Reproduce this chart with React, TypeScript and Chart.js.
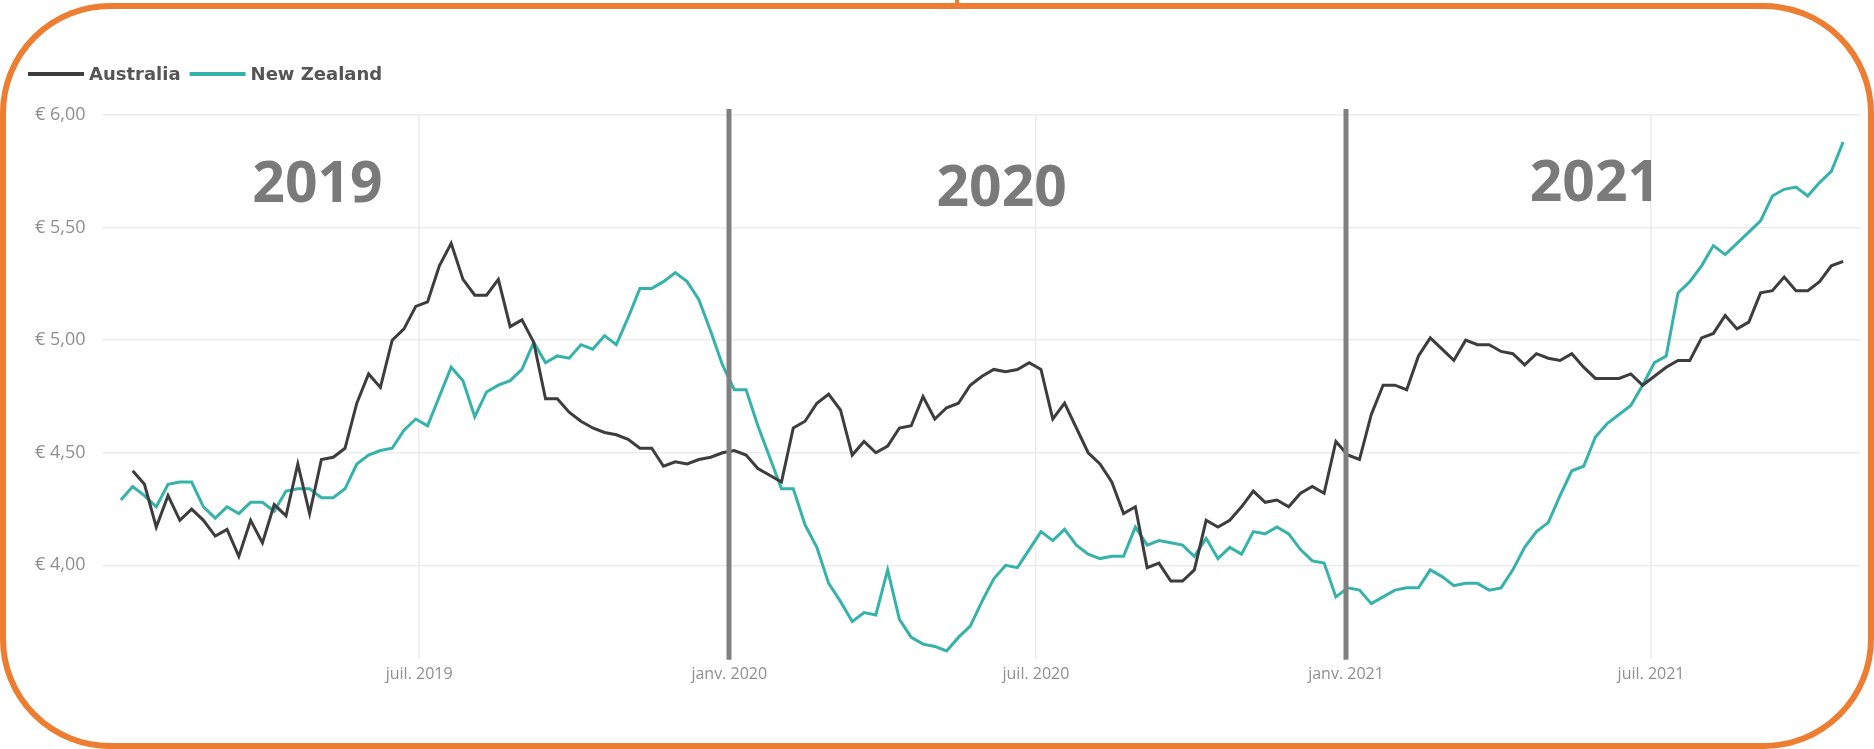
import React, { useEffect, useRef } from 'react';
import { Chart, registerables } from 'chart.js';

Chart.register(...registerables);

// ---------- data ----------
const EPOCH = '2019-01-01';
const FIRST_WEEK = '2019-01-05';

const seriesNames = ['Australia', 'New Zealand'];

// weekly values, index 0 = FIRST_WEEK
const australia: (number | null)[] = [
  null, 4.42, 4.36, 4.17, 4.31, 4.2, 4.25, 4.2, 4.13, 4.16,
  4.04, 4.2, 4.1, 4.27, 4.22, 4.45, 4.23, 4.47, 4.48, 4.52,
  4.72, 4.85, 4.79, 5.0, 5.05, 5.15, 5.17, 5.33, 5.43, 5.27,
  5.2, 5.2, 5.27, 5.06, 5.09, 4.99, 4.74, 4.74, 4.68, 4.64,
  4.61, 4.59, 4.58, 4.56, 4.52, 4.52, 4.44, 4.46, 4.45, 4.47,
  4.48, 4.5, 4.51, 4.49, 4.43, 4.4, 4.37, 4.61, 4.64, 4.72,
  4.76, 4.69, 4.49, 4.55, 4.5, 4.53, 4.61, 4.62, 4.75, 4.65,
  4.7, 4.72, 4.8, 4.84, 4.87, 4.86, 4.87, 4.9, 4.87, 4.65,
  4.72, 4.61, 4.5, 4.45, 4.37, 4.23, 4.26, 3.99, 4.01, 3.93,
  3.93, 3.98, 4.2, 4.17, 4.2, 4.26, 4.33, 4.28, 4.29, 4.26,
  4.32, 4.35, 4.32, 4.55, 4.49, 4.47, 4.67, 4.8, 4.8, 4.78,
  4.93, 5.01, 4.96, 4.91, 5.0, 4.98, 4.98, 4.95, 4.94, 4.89,
  4.94, 4.92, 4.91, 4.94, 4.88, 4.83, 4.83, 4.83, 4.85, 4.8,
  4.84, 4.88, 4.91, 4.91, 5.01, 5.03, 5.11, 5.05, 5.08, 5.21,
  5.22, 5.28, 5.22, 5.22, 5.26, 5.33, 5.35,
];

const newZealand: number[] = [
  4.29, 4.35, 4.31, 4.26, 4.36, 4.37, 4.37, 4.26, 4.21, 4.26,
  4.23, 4.28, 4.28, 4.24, 4.33, 4.34, 4.34, 4.3, 4.3, 4.34,
  4.45, 4.49, 4.51, 4.52, 4.6, 4.65, 4.62, 4.75, 4.88, 4.82,
  4.66, 4.77, 4.8, 4.82, 4.87, 4.99, 4.9, 4.93, 4.92, 4.98,
  4.96, 5.02, 4.98, 5.1, 5.23, 5.23, 5.26, 5.3, 5.26, 5.18,
  5.04, 4.89, 4.78, 4.78, 4.62, 4.48, 4.34, 4.34, 4.18, 4.08,
  3.92, 3.84, 3.75, 3.79, 3.78, 3.98, 3.76, 3.68, 3.65, 3.64,
  3.62, 3.68, 3.73, 3.84, 3.94, 4.0, 3.99, 4.07, 4.15, 4.11,
  4.16, 4.09, 4.05, 4.03, 4.04, 4.04, 4.17, 4.09, 4.11, 4.1,
  4.09, 4.04, 4.12, 4.03, 4.08, 4.05, 4.15, 4.14, 4.17, 4.14,
  4.07, 4.02, 4.01, 3.86, 3.9, 3.89, 3.83, 3.86, 3.89, 3.9,
  3.9, 3.98, 3.95, 3.91, 3.92, 3.92, 3.89, 3.9, 3.98, 4.08,
  4.15, 4.19, 4.31, 4.42, 4.44, 4.57, 4.63, 4.67, 4.71, 4.8,
  4.9, 4.93, 5.21, 5.26, 5.33, 5.42, 5.38, 5.43, 5.48, 5.53,
  5.64, 5.67, 5.68, 5.64, 5.7, 5.75, 5.88,
];

const xTickDates = ['2019-07-01', '2020-01-01', '2020-07-01', '2021-01-01', '2021-07-01'];
const xTickLabels = ['juil. 2019', 'janv. 2020', 'juil. 2020', 'janv. 2021', 'juil. 2021'];
const yTicks = [4.0, 4.5, 5.0, 5.5, 6.0];

const separatorDates = ['2020-01-01', '2021-01-01'];
const yearLabels = ['2019', '2020', '2021'];
const yearLabelDates = ['2019-03-24', '2020-05-03', '2021-04-20'];
const yearLabelValues = [5.615, 5.597, 5.62];

// ---------- helpers ----------
const DAY = 86400000;
const dayOf = (d: string) => (Date.parse(d) - Date.parse(EPOCH)) / DAY;
const firstDay = dayOf(FIRST_WEEK);
const weekDay = (i: number) => firstDay + 7 * i;

const AU_COLOR = '#3d3d3d';
const NZ_COLOR = '#35b3aa';

const xTickDays = xTickDates.map(dayOf);

const overlayPlugin = {
  id: 'overlay',
  afterDatasetsDraw(chart: any) {
    const { ctx, chartArea, scales } = chart;
    const xs = scales.x;
    const ys = scales.y;
    ctx.save();
    // year separators
    ctx.strokeStyle = '#808080';
    ctx.lineWidth = 5;
    separatorDates.forEach((d) => {
      const x = Math.round(xs.getPixelForValue(dayOf(d)));
      ctx.beginPath();
      ctx.moveTo(x, chartArea.top - 6);
      ctx.lineTo(x, chartArea.bottom + 1);
      ctx.stroke();
    });
    // year labels
    ctx.fillStyle = '#7a7a7a';
    ctx.font = 'bold 57px "Open Sans"';
    ctx.textAlign = 'left';
    ctx.textBaseline = 'alphabetic';
    yearLabels.forEach((t, i) => {
      ctx.fillText(t, xs.getPixelForValue(dayOf(yearLabelDates[i])), ys.getPixelForValue(yearLabelValues[i]));
    });
    ctx.restore();
  },
  afterDraw(chart: any) {
    // legend
    const { ctx } = chart;
    ctx.save();
    ctx.font = 'bold 18px "DejaVu Sans"';
    ctx.textBaseline = 'middle';
    ctx.textAlign = 'left';
    let x = 28;
    const y = 74;
    chart.data.datasets.forEach((ds: any) => {
      ctx.strokeStyle = ds.borderColor;
      ctx.lineWidth = 4;
      ctx.beginPath();
      ctx.moveTo(x, y);
      ctx.lineTo(x + 56, y);
      ctx.stroke();
      x += 61;
      ctx.fillStyle = '#555555';
      ctx.fillText(ds.label, x, y + 1);
      x += ctx.measureText(ds.label).width + 9;
    });
    ctx.restore();
  },
};

export default function App() {
  const ref = useRef<HTMLCanvasElement | null>(null);

  useEffect(() => {
    if (!ref.current) return;
    Chart.defaults.font.family = '"Open Sans", sans-serif';
    const chart = new Chart(ref.current, {
      type: 'line',
      data: {
        datasets: [
          {
            label: seriesNames[0],
            data: australia.map((v, i) => ({ x: weekDay(i), y: v })) as any,
            borderColor: AU_COLOR,
            backgroundColor: AU_COLOR,
            borderWidth: 3,
            pointRadius: 0,
            tension: 0,
          },
          {
            label: seriesNames[1],
            data: newZealand.map((v, i) => ({ x: weekDay(i), y: v })) as any,
            borderColor: NZ_COLOR,
            backgroundColor: NZ_COLOR,
            borderWidth: 3,
            pointRadius: 0,
            tension: 0,
          },
        ],
      },
      options: {
        animation: false,
        responsive: false,
        devicePixelRatio: 1,
        layout: { padding: { left: 18, right: 14, top: 115, bottom: 59 } },
        plugins: {
          legend: { display: false },
          tooltip: { enabled: false },
        },
        scales: {
          x: {
            type: 'linear',
            min: -6.9,
            max: 1036,
            afterBuildTicks: (s: any) => {
              s.ticks = xTickDays.map((v) => ({ value: v }));
            },
            ticks: {
              autoSkip: false,
              maxRotation: 0,
              padding: 6,
              color: '#8f8f8f',
              font: { size: 16 },
              callback: (v: any) => {
                const i = xTickDays.indexOf(Number(v));
                return i >= 0 ? xTickLabels[i] : '';
              },
            },
            grid: { color: '#ececec', lineWidth: 1.5, drawTicks: false },
            border: { display: false },
          },
          y: {
            min: 3.585,
            max: 6.0,
            afterBuildTicks: (s: any) => {
              s.ticks = yTicks.map((v) => ({ value: v }));
            },
            ticks: {
              padding: 17,
              color: '#8f8f8f',
              font: { size: 18 },
              callback: (v: any) => '€ ' + Number(v).toFixed(2).replace('.', ','),
            },
            grid: { color: '#ececec', lineWidth: 1.5, drawTicks: false },
            border: { display: false },
          },
        },
      },
      plugins: [overlayPlugin],
    });
    return () => chart.destroy();
  }, []);

  return (
    <div style={{ position: 'absolute', left: 0, top: 0, width: 1874, height: 749, background: '#fff', overflow: 'hidden' }}>
      <canvas ref={ref} width={1874} height={749} style={{ position: 'absolute', left: 0, top: 0, width: 1874, height: 749 }} />
      <div
        style={{
          position: 'absolute',
          left: 0,
          top: 3,
          width: 1874,
          height: 746,
          boxSizing: 'border-box',
          border: '6px solid #ED7D31',
          borderRadius: 110,
          pointerEvents: 'none',
        }}
      />
      <div style={{ position: 'absolute', left: 955, top: 0, width: 4, height: 7, background: '#ED7D31' }} />
    </div>
  );
}
